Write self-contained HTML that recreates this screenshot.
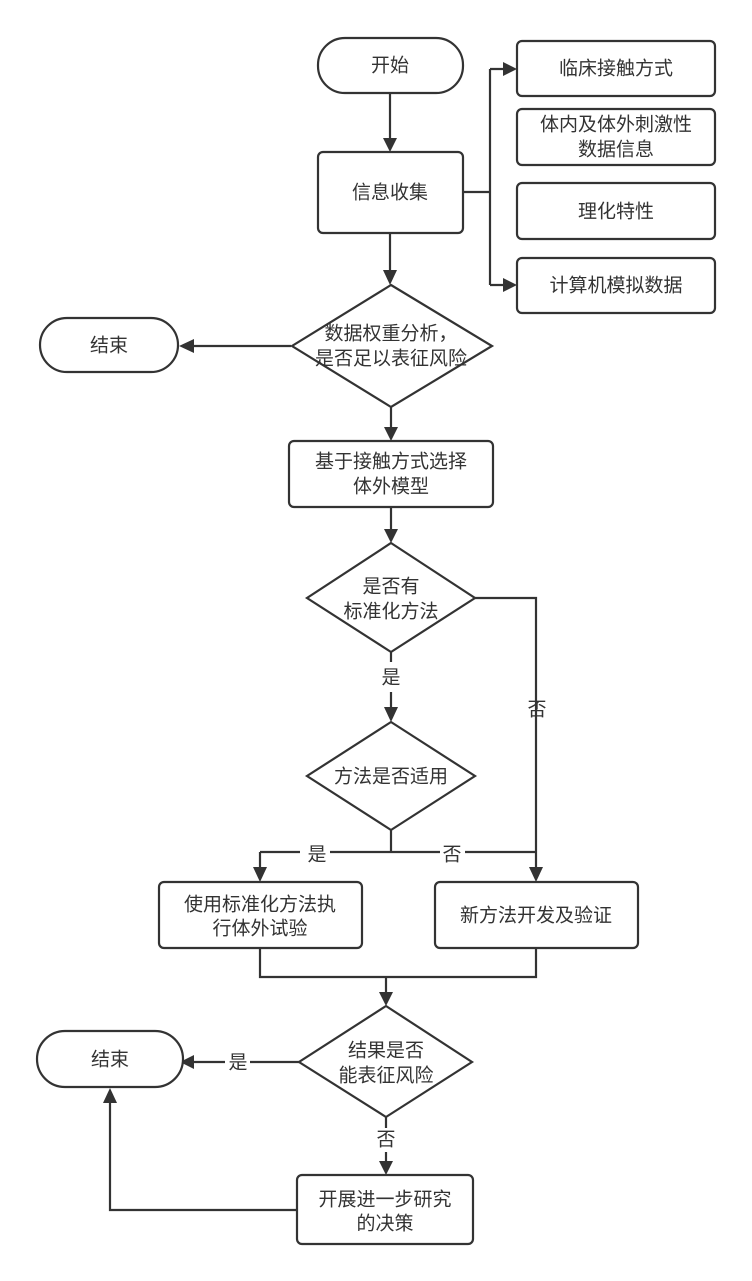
<!DOCTYPE html>
<html><head><meta charset="utf-8"><style>
html,body{margin:0;padding:0;background:#fff;}
svg{display:block;}
text{font-family:"Liberation Sans","Noto Sans CJK SC",sans-serif;font-size:19px;fill:#333;text-anchor:middle;dominant-baseline:central;}
.s{fill:#fff;stroke:#333;stroke-width:2.2;}
.l{fill:none;stroke:#333;stroke-width:2.2;}
.a{fill:#333;}
</style></head><body>
<svg width="752" height="1281" viewBox="0 0 752 1281">
<path class="l" d="M390 93V140 M390 233V272 M463 192H490 M490 69V285 M490 69H505 M490 285H505
M291 346H192 M391 407V428 M391 507V530 M391 652V662 M391 692V708 M391 830V852 M260 852H300 M330 852H440 M465 852H536 M260 852V868
M475 598H536V868 M260 948V977H536V948 M386 977V993 M299 1062H250 M225 1062H192 M386 1117V1128 M386 1152V1162 M297 1210H110V1102"/>
<g class="a">
<path d="M383 138L397 138L390 152Z"/>
<path d="M383 270L397 270L390 285Z"/>
<path d="M503 62L517 69L503 76Z"/>
<path d="M503 278L517 285L503 292Z"/>
<path d="M194 339L179 346L194 353Z"/>
<path d="M384 427L398 427L391 441Z"/>
<path d="M384 529L398 529L391 543Z"/>
<path d="M384 707L398 707L391 722Z"/>
<path d="M253 867L267 867L260 882Z"/>
<path d="M529 867L543 867L536 882Z"/>
<path d="M379 992L393 992L386 1006Z"/>
<path d="M194 1055L180 1062L194 1069Z"/>
<path d="M379 1161L393 1161L386 1175Z"/>
<path d="M103 1103L110 1088L117 1103Z"/>
</g>
<rect class="s" x="318" y="38" width="145" height="55" rx="27"/>
<rect class="s" x="318" y="152" width="145" height="81" rx="5"/>
<rect class="s" x="517" y="41" width="198" height="55" rx="5"/>
<rect class="s" x="517" y="109" width="198" height="56" rx="5"/>
<rect class="s" x="517" y="183" width="198" height="56" rx="5"/>
<rect class="s" x="517" y="258" width="198" height="55" rx="5"/>
<polygon class="s" points="391,285 492,346 391,407 292,346"/>
<rect class="s" x="40" y="318" width="138" height="54" rx="27"/>
<rect class="s" x="289" y="441" width="204" height="66" rx="5"/>
<polygon class="s" points="391,543 475,598 391,652 307,598"/>
<polygon class="s" points="391,722 475,776 391,830 307,776"/>
<rect class="s" x="159" y="882" width="203" height="66" rx="5"/>
<rect class="s" x="435" y="882" width="203" height="66" rx="5"/>
<polygon class="s" points="386,1006 472,1062 386,1117 299,1062"/>
<rect class="s" x="37" y="1031" width="146" height="56" rx="28"/>
<rect class="s" x="297" y="1175" width="176" height="69" rx="5"/>
<text x="390" y="66">开始</text>
<text x="390" y="193">信息收集</text>
<text x="616" y="69">临床接触方式</text>
<text x="616" y="125">体内及体外刺激性</text>
<text x="616" y="150">数据信息</text>
<text x="616" y="212">理化特性</text>
<text x="616" y="286">计算机模拟数据</text>
<text x="391" y="334">数据权重分析，</text>
<text x="391" y="359">是否足以表征风险</text>
<text x="109" y="346">结束</text>
<text x="391" y="462">基于接触方式选择</text>
<text x="391" y="487">体外模型</text>
<text x="391" y="587">是否有</text>
<text x="391" y="612">标准化方法</text>
<text x="391" y="678">是</text>
<text x="537" y="710">否</text>
<text x="391" y="777">方法是否适用</text>
<text x="317" y="855">是</text>
<text x="452" y="855">否</text>
<text x="260" y="905">使用标准化方法执</text>
<text x="260" y="929">行体外试验</text>
<text x="536" y="916">新方法开发及验证</text>
<text x="386" y="1051">结果是否</text>
<text x="386" y="1076">能表征风险</text>
<text x="110" y="1060">结束</text>
<text x="238" y="1063">是</text>
<text x="386" y="1140">否</text>
<text x="385" y="1200">开展进一步研究</text>
<text x="385" y="1224">的决策</text>
</svg>
</body></html>
